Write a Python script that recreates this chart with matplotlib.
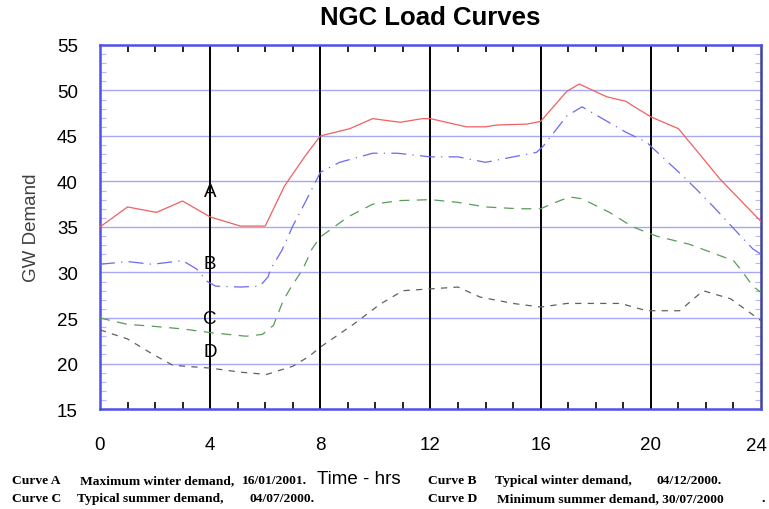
import numpy as np
import matplotlib
matplotlib.use('Agg')
from matplotlib import pyplot as plt
from matplotlib.ticker import MultipleLocator

plt.rcParams['font.family'] = ['Liberation Sans', 'DejaVu Sans']

# Curve A - maximum winter demand
hours_a = [0, 1.0, 2.05, 3.0, 4.0, 5.1, 6.0, 6.7, 7.45, 8.0, 9.07, 9.9, 10.9, 11.7, 12.0,
           13.3, 14.0, 14.4, 15.5, 16.0, 16.95, 17.4, 18.4, 19.1, 19.35, 20.0, 21.0, 21.96,
           22.5, 24.0]
gw_a = [35.0, 37.2, 36.6, 37.85, 36.1, 35.1, 35.1, 39.5, 42.8, 45.0, 45.8, 46.9, 46.5, 46.9, 46.9,
        46.0, 46.0, 46.2, 46.3, 46.6, 49.9, 50.7, 49.3, 48.8, 48.3, 47.1, 45.8, 42.3,
        40.3, 35.6]

# Curve B - typical winter demand
hours_b = [0, 1.0, 1.9, 3.0, 3.5, 3.9, 4.2, 5.1, 5.8, 6.1, 6.2, 6.6, 7.0, 7.45, 8.0, 8.7, 9.9,
           10.8, 12.0, 13.0, 14.0, 15.0, 15.85, 16.1, 16.95, 17.5, 19.1, 19.85, 20.2, 21.2,
           21.7, 22.25, 23.2, 23.7, 24.0]
gw_b = [30.9, 31.2, 30.9, 31.3, 30.4, 29.0, 28.5, 28.4, 28.5, 29.5, 30.4, 32.4, 35.1, 37.7, 41.0,
        42.1, 43.1, 43.1, 42.7, 42.7, 42.1, 42.7, 43.2, 43.9, 47.2, 48.2, 45.4, 44.3, 43.3,
        40.5, 39.0, 37.3, 34.2, 32.6, 32.0]

# Curve C - typical summer demand
hours_c = [0, 1.0, 1.9, 3.0, 4.0, 5.3, 5.9, 6.3, 6.65, 6.9, 7.37, 7.7, 8.0, 9.0, 9.9, 10.9, 12.0,
           13.0, 14.0, 15.2, 16.0, 16.45, 17.05, 17.5, 18.5, 19.35, 20.2, 21.4, 23.0, 23.3,
           23.7, 24.0]
gw_c = [25.0, 24.3, 24.1, 23.8, 23.4, 23.0, 23.2, 24.2, 26.9, 28.2, 30.4, 32.6, 33.9, 36.1, 37.5,
        37.9, 38.0, 37.7, 37.2, 37.0, 37.0, 37.6, 38.3, 38.1, 36.6, 35.0, 34.0, 33.1, 31.3,
        30.2, 28.5, 27.8]

# Curve D - minimum summer demand
hours_d = [0, 1.0, 1.9, 2.65, 4.0, 5.1, 6.05, 7.0, 7.6, 8.0, 9.2, 10.16, 11.0, 12.0, 13.0, 13.8,
           15.0, 16.0, 16.95, 18.9, 19.85, 21.05, 21.9, 22.9, 23.5, 24.0]
gw_d = [23.7, 22.7, 21.05, 19.8, 19.5, 19.05, 18.8, 19.7, 20.8, 21.8, 24.3, 26.5, 28.0, 28.2, 28.4,
        27.3, 26.6, 26.2, 26.6, 26.6, 25.8, 25.8, 28.0, 27.1, 25.8, 24.7]

x_ticks = [0, 4, 8, 12, 16, 20, 24]
curve_labels = ['A', 'B', 'C', 'D']
label_values = [38.9, 31.0, 25.0, 21.3]

footer_line1 = [(0.016, 'Curve A'), (0.104, 'Maximum winter demand,'), (0.315, '16/01/2001.'),
                (0.557, 'Curve B'), (0.644, 'Typical winter demand,'), (0.854, '04/12/2000.')]
footer_line2 = [(0.016, 'Curve C'), (0.100, 'Typical summer demand,'), (0.325, '04/07/2000.'),
                (0.557, 'Curve D'), (0.646, 'Minimum summer demand, 30/07/2000'), (0.990, '.')]

blue = '#5050e8'
fig = plt.figure(figsize=(7.69, 5.10), dpi=100)
ax = fig.add_axes([0.130, 0.196, 0.8596, 0.714])

for y in range(20, 55, 5):
    ax.axhline(y, color='#a8a8f4', lw=1.0, zorder=1)
for x in x_ticks[1:-1]:
    ax.axvline(x, color='black', lw=1.4, zorder=1)

ax.plot(hours_a, gw_a, color='#f06060', lw=0.9, zorder=3)
ax.plot(hours_b, gw_b, color='#6a6af0', lw=0.9, ls=(0, (12, 5, 1, 5)), zorder=3)
ax.plot(hours_c, gw_c, color='#5a9a5a', lw=0.9, ls=(0, (8, 6)), zorder=3)
ax.plot(hours_d, gw_d, color='#606060', lw=0.9, ls=(0, (5, 5)), zorder=3)

for lab, val in zip(curve_labels, label_values):
    ax.text(4, val, lab, fontsize=13.5, ha='center', va='center', zorder=4)

ax.set_xlim(0, 24)
ax.set_ylim(15, 55)
ax.set_xticks(x_ticks)
# last label drawn separately so it can sit a touch inside the figure edge
ax.set_xticklabels([str(t) for t in x_ticks[:-1]] + [''])
ax.annotate(str(x_ticks[-1]), xy=(x_ticks[-1], 0), xycoords=('data', 'axes fraction'),
            xytext=(-3, -20), textcoords='offset points', ha='center', va='top', fontsize=13.5)
ax.xaxis.set_minor_locator(MultipleLocator(1))
ax.yaxis.set_major_locator(MultipleLocator(5))
ax.yaxis.set_minor_locator(MultipleLocator(1))
ax.tick_params(axis='x', which='major', length=0, labelsize=13.5, pad=19.5)
ax.tick_params(axis='x', which='minor', direction='in', length=5, width=1.2, color='black',
               top=True, bottom=True)
ax.tick_params(axis='y', which='major', length=0, labelsize=13.5, pad=16)
ax.tick_params(axis='y', which='minor', direction='in', length=4, width=0.8, color='#b8b8f4',
               left=True, right=True)
for s in ax.spines.values():
    s.set_color(blue)
    s.set_linewidth(1.8)
ax.spines['right'].set_color('#4040a0')

ax.set_ylabel('GW Demand', fontsize=13.5, color='#404040', labelpad=12)
fig.text(0.559, 0.964, 'NGC Load Curves', fontsize=18.5, fontweight='bold', ha='center', va='center')
fig.text(0.466, 0.060, 'Time - hrs', fontsize=13.5, ha='center', va='center')

for x, t in footer_line1:
    fig.text(x, 0.056, t, fontsize=9.7, fontweight='bold', family='Liberation Serif', va='center')
for x, t in footer_line2:
    fig.text(x, 0.021, t, fontsize=9.7, fontweight='bold', family='Liberation Serif', va='center')

fig.savefig('out.png', dpi=100)
